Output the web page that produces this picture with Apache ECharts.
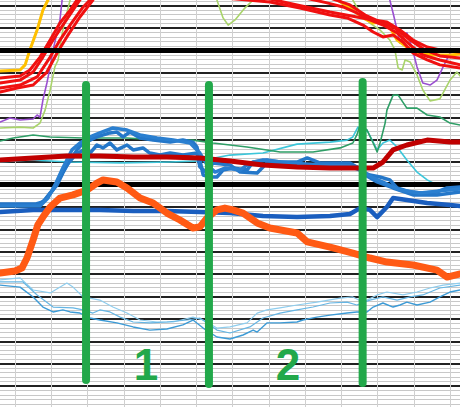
<!DOCTYPE html>
<html>
<head>
<meta charset="utf-8">
<script src="https://cdn.jsdelivr.net/npm/echarts@6/dist/echarts.min.js"></script>
<style>html,body{margin:0;padding:0;background:#fff}#c{width:460px;height:407px}</style>
</head>
<body>
<div id="c"></div>
<script>
// x: time units (10 per grid column), y: level units (10 per major grid line)
const redA = [[5.9,147.6],[11.4,148.5],[14.1,151.2],[16.9,157.0],[19.7,164.6],[22.4,172.2],[25.2,178.0],[27.1,182.5],[29.3,189.2],[50,200],[74.8,189.2],[79.0,183.4],[87.8,180.3],[96.9,177.1],[104.3,174.9],[108.8,173.6],[112.6,172.7],[116.2,169.1],[119.8,164.6],[123.7,161.5],[127.2,160.2],[132.8,159.3]];
const redB = [[5.9,145.4],[11.4,146.7],[15.0,150.3],[17.7,157.0],[20.5,164.6],[23.2,171.3],[26.0,178.0],[27.9,182.5],[30.1,189.2],[47.2,200],[65.2,187.9],[67.9,183.4],[80.3,181.6],[88.6,178.9],[96.9,175.8],[101.6,174.5],[106.0,171.3],[108.8,168.2],[111.5,166.0],[114.3,166.9],[117.0,163.7],[119.8,158.8],[123.7,155.7],[127.2,153.5],[132.8,152.1]];
const redC = [[5.9,143.2],[11.4,144.5],[16.1,148.1],[19.7,157.0],[22.4,164.6],[25.2,171.3],[28.8,179.4],[30.7,182.5],[32.6,189.2],[61,200],[85.9,189.2],[90.0,183.4],[96.1,181.2],[100.5,179.4],[104.3,176.7],[107.9,173.6],[111.5,171.3],[115.4,167.8],[119.0,162.4],[122.5,157.9],[127.2,155.7],[132.8,153.5]];
const redD = [[5.9,141.4],[10.6,143.2],[15.0,144.5],[18.8,150.3],[21.6,158.8],[24.3,166.0],[27.9,174.9],[31.5,182.5],[33.4,189.2],[66.6,200],[92.8,189.2],[96.9,183.4],[102.4,180.3],[106.6,175.8],[110.7,172.7],[114.8,170.0],[119.0,164.6],[123.1,160.2],[127.2,157.5],[132.8,156.6]];
const yellow = [[5.9,150.8],[11.4,151.2],[12.8,153.5],[14.1,160.2],[16.1,169.1],[17.7,178.0],[19.1,182.5],[21.0,189.2],[61,200],[94.1,189.2],[98.3,183.4],[101.0,180.3],[103.2,178.0],[106.0,174.5],[108.8,172.2],[110.7,172.7],[113.4,170.4],[115.4,164.6],[118.1,161.5],[120.9,158.8],[125.3,157.9],[130.0,157.9],[132.8,158.4]];
const purple = [[5.9,128.0],[8.6,129.8],[11.4,128.9],[15.0,129.3],[16.1,131.1],[16.9,130.2],[17.7,137.8],[18.8,145.4],[19.7,152.6],[20.5,160.2],[21.6,167.8],[22.4,173.6],[23.0,182.5],[23.5,189.2],[74.8,200],[112.1,189.2],[113.4,182.5],[114.3,176.7],[115.4,169.1],[116.2,163.3],[117.0,166.0],[118.1,167.8],[119.5,161.5],[120.9,152.6],[122.5,145.4],[124.5,144.5],[126.4,146.7],[128.1,152.6],[130.0,158.8],[132.8,160.2]];
const olive = [[5.9,125.3],[11.4,125.7],[15.0,125.3],[16.9,127.5],[18.3,133.3],[19.7,142.3],[21.0,152.6],[21.9,155.7],[22.4,161.5],[23.2,169.1],[24.3,176.7],[25.2,182.5],[26.0,189.2],[47.2,200],[64.3,187.0],[65.7,182.5],[67.4,174.5],[68.8,171.3],[70.7,173.6],[73.4,178.9],[75.7,182.5],[77.0,189.2],[88.6,200],[102.4,187.0],[103.2,182.5],[105.2,176.7],[107.9,172.2],[110.7,169.1],[113.4,164.6],[114.8,160.2],[115.7,152.1],[116.8,151.2],[117.6,155.7],[119.0,154.8],[120.9,149.0],[122.5,142.3],[124.5,137.4],[127.2,138.3],[130.0,146.7],[131.9,150.3],[132.8,148.5]];
const green = [[5.9,119.5],[9.5,120.8],[15.0,122.2],[19.7,121.3],[28.8,120.8],[31.5,120.8],[40.9,120.8],[50.0,119.9],[59.1,119.9],[63.0,119.0],[64.6,118.6],[74.0,116.8],[83.1,114.6],[92.2,114.6],[99.7,116.4],[103.2,118.6],[104.3,122.2],[105.2,126.6],[107.1,124.4],[108.8,118.6],[109.9,114.6],[110.7,118.6],[112.1,127.5],[112.6,133.3],[114.3,140.0],[115.7,140.0],[118.1,134.2],[120.9,134.2],[123.7,131.1],[127.2,130.2],[130.0,127.5],[132.8,126.6]];
const cyan = [[5.9,110.1],[14.1,111.0],[25.2,110.1],[39.0,109.7],[52.8,110.1],[61.0,110.6],[69.3,113.2],[78.4,114.1],[87.8,118.1],[96.9,119.0],[101.6,119.9],[103.2,121.3],[104.6,125.7],[105.9,122.2],[107.1,124.4],[108.8,119.0],[109.9,115.5],[111.5,118.6],[113.4,119.9],[115.4,116.8],[118.1,111.0],[120.9,105.6],[123.7,102.1],[126.4,99.8],[129.2,98.9],[132.8,98.9]];
const darkRed = [[5.9,111.0],[15.0,111.9],[24.3,112.8],[33.4,112.8],[42.6,112.3],[51.9,112.3],[61.0,111.9],[69.3,110.6],[78.4,108.8],[87.8,107.9],[96.9,107.4],[104.3,107.4],[108.8,107.4],[111.5,110.1],[114.3,115.5],[118.1,117.7],[123.7,119.9],[130.0,119.0],[132.8,119.0]];
const darkBlue = [[5.9,87.8],[15.0,88.7],[24.3,88.7],[33.4,88.7],[42.6,88.2],[51.9,88.2],[61.0,87.8],[69.3,87.3],[78.4,86.0],[87.8,85.5],[96.9,86.0],[102.4,86.9],[105.2,89.5],[107.9,88.7],[109.9,85.5],[112.6,90.0],[114.3,94.0],[118.1,93.1],[123.7,91.8],[130.0,90.9],[132.8,90.4]];
const blueA = [[5.9,91.3],[15.5,91.3],[17.7,92.2],[19.7,96.3],[21.6,99.8],[23.2,105.2],[25.2,111.0],[27.1,115.5],[28.8,118.6],[30.7,119.9],[32.6,121.3],[36.2,123.1],[38.1,123.5],[39.8,121.3],[41.7,123.5],[44.5,120.8],[48.1,119.9],[52.8,119.0],[56.3,119.9],[59.1,119.0],[60.2,116.8],[61.0,111.0],[61.9,104.3],[63.8,103.4],[65.7,103.4],[67.4,106.5],[70.1,107.4],[74.0,106.5],[75.7,110.1],[79.5,111.0],[83.1,110.1],[87.8,110.1],[90.6,111.9],[94.1,109.7],[98.8,109.7],[102.4,109.7],[104.3,107.9],[106.0,105.6],[107.9,104.3],[110.7,103.4],[113.4,102.1],[115.4,98.5],[119.0,96.7],[122.5,96.3],[126.4,96.7],[129.2,98.5],[132.8,98.9]];
const blueB = [[5.9,90.9],[16.3,90.9],[18.3,93.1],[20.5,97.6],[22.4,103.4],[24.3,108.8],[26.6,113.2],[28.8,115.5],[30.7,114.1],[32.6,117.7],[34.3,116.4],[36.2,118.6],[38.1,115.5],[40.9,117.7],[42.6,115.5],[45.3,116.4],[47.2,114.1],[50.0,113.2],[52.8,114.1],[56.3,113.2],[60.2,114.1],[61.0,107.9],[63.0,105.2],[64.6,109.7],[69.3,108.8],[72.1,105.6],[76.8,105.2],[79.5,109.7],[83.1,109.2],[88.6,108.8],[96.9,108.8],[101.6,108.8],[104.3,107.9],[106.6,104.3],[109.9,101.2],[114.3,98.5],[119.8,95.4],[126.4,95.4],[132.8,96.7]];
const blueC = [[5.9,90.4],[16.9,90.4],[19.1,94.0],[21.3,100.7],[23.2,107.4],[25.7,115.5],[27.9,118.6],[30.7,121.3],[33.4,123.1],[37.0,125.3],[40.9,124.4],[44.5,122.2],[49.2,120.8],[53.6,119.9],[58.3,118.6],[61.0,114.1],[63.0,108.8],[65.2,105.6],[67.9,107.4],[72.1,106.5],[74.8,109.7],[78.4,111.0],[85.9,109.7],[94.1,108.8],[102.4,108.3],[105.2,106.5],[108.8,103.0],[112.1,100.7],[116.2,97.6],[121.7,96.3],[127.2,97.2],[132.8,98.1]];
const orange = [[5.9,60.5],[10.0,61.4],[11.9,62.7],[13.3,67.2],[15.0,75.3],[16.3,82.0],[17.7,85.5],[19.7,90.0],[22.4,94.0],[26.0,95.4],[29.9,97.6],[32.6,100.7],[34.3,102.1],[38.1,101.2],[40.9,98.5],[44.5,94.0],[48.1,91.8],[51.9,87.3],[55.5,84.2],[59.1,80.6],[61.0,81.1],[63.0,85.1],[65.7,88.7],[67.9,89.5],[70.1,88.7],[72.9,87.3],[76.8,82.9],[80.3,80.6],[87.8,78.4],[90.6,74.4],[96.9,72.1],[103.2,69.4],[107.9,67.2],[112.6,65.4],[119.8,64.1],[126.4,61.8],[129.2,58.7],[132.8,60.1]];
const lowBlue1 = [[5.9,55.1],[11.4,54.2],[15.0,49.8],[17.7,45.3],[20.5,43.1],[23.2,44.0],[25.2,43.1],[27.9,42.6],[30.7,40.4],[33.4,39.5],[38.1,38.2],[42.6,36.4],[47.2,35.0],[51.9,35.5],[56.3,37.3],[59.1,39.5],[61.9,35.9],[65.7,31.9],[69.3,31.0],[72.9,32.8],[75.7,35.0],[76.8,34.1],[79.5,38.2],[83.1,38.2],[87.8,38.6],[89.4,39.5],[93.3,40.8],[96.9,41.7],[101.6,42.6],[104.3,43.1],[107.1,43.1],[108.8,45.3],[111.5,47.1],[114.3,45.3],[116.2,46.2],[118.1,47.5],[120.9,46.2],[124.5,47.5],[127.2,49.8],[130.0,52.0],[132.8,52.9]];
const lowBlue2 = [[5.9,57.4],[11.4,58.3],[15.0,52.9],[19.7,51.6],[24.3,56.0],[26.0,54.2],[28.8,49.8],[33.4,48.4],[37.0,45.3],[40.9,42.6],[44.5,39.5],[49.2,38.6],[53.6,38.6],[59.1,40.8],[61.9,39.5],[65.7,35.9],[69.3,36.4],[74.0,38.2],[76.8,42.6],[79.5,44.0],[83.1,44.9],[87.8,46.2],[93.3,47.5],[99.7,49.3],[103.2,49.8],[106.0,47.5],[109.9,50.7],[112.6,52.0],[117.0,50.7],[120.9,52.0],[124.5,53.8],[128.1,55.1],[132.8,56.0]];
const lowBlue3 = [[5.9,56.5],[12.2,56.5],[16.1,50.7],[20.5,45.3],[26.0,44.9],[28.8,44.0],[31.5,42.6],[33.4,44.0],[36.2,43.1],[39.0,40.8],[42.6,38.6],[47.2,38.2],[51.9,38.6],[57.5,39.5],[61.0,40.4],[63.0,38.2],[65.7,35.0],[69.3,33.7],[74.8,36.4],[78.4,40.4],[83.1,42.6],[87.8,44.0],[92.2,45.3],[96.9,47.1],[101.6,47.5],[104.3,46.2],[107.9,48.4],[111.5,49.8],[115.4,48.4],[119.0,49.8],[122.5,50.7],[127.2,53.8],[132.8,55.1]];
const phaseBars = [[[29.6,144.5],[29.6,12.7]],[[63.5,144.5],[63.5,10.9]],[[105.9,145.9],[105.9,11.4]]];
const phaseLabels = [[46.1,19.4,'1'],[85.3,19.4,'2']];
const thickLevels = [160, 100];

function ln(name, data, color, width, z, smooth) {
  return {type:'line', name, data, showSymbol:false, symbol:'none', smooth: smooth || 0, z: z,
    lineStyle:{color, width, join:'round', cap:'round'}, emphasis:{disabled:true}, animation:false};
}

const series = [
  {type:'line', data:[], z:1, markLine:{silent:true, symbol:'none', label:{show:false}, animation:false,
    lineStyle:{color:'#000', width:5, type:'solid'}, data: thickLevels.map(v => ({yAxis:v}))}},
  ln('lb2', lowBlue2, '#8ECDEE', 1.2, 2),
  ln('lb3', lowBlue3, '#66B6E4', 1.2, 2),
  ln('lb1', lowBlue1, '#3D9BD6', 1.4, 2),
  ln('cyan', cyan, '#3CC6DA', 1.6, 3),
  ln('green', green, '#2E9E66', 1.6, 3),
  ln('olive', olive, '#A9D46A', 1.6, 3),
  ln('purple', purple, '#9A4FD0', 1.6, 3),
  ln('yellow', yellow, '#FFC000', 3, 4),
  ln('redA', redA, '#F01010', 3, 4),
  ln('redB', redB, '#F01010', 3, 4),
  ln('redC', redC, '#F01010', 3, 4),
  ln('redD', redD, '#F01010', 3, 4),
  ln('blueA', blueA, '#2477C9', 3.5, 5),
  ln('blueB', blueB, '#2477C9', 3.5, 5),
  ln('blueC', blueC, '#2A7FD0', 3.5, 5),
  ln('darkBlue', darkBlue, '#1A5EBF', 4.5, 5),
  ln('darkRed', darkRed, '#C00000', 5, 6),
  ln('orange', orange, '#FF5A14', 7, 7),
];
phaseBars.forEach((b, i) => series.push(ln('bar' + i, b, '#22A84A', 8, 9)));
series.push({type:'scatter', z:10, symbolSize:1, animation:false, silent:true,
  itemStyle:{opacity:0},
  data: phaseLabels.map(p => ({value:[p[0], p[1]], name:p[2]})),
  label:{show:true, position:'inside', formatter: p => p.name, color:'#22A84A', opacity:1,
    fontSize:44, fontWeight:'bold', fontFamily:'Liberation Sans, Arial, sans-serif'}});

const chart = echarts.init(document.getElementById('c'), null, {renderer:'svg'});
chart.setOption({
  backgroundColor:'#fff',
  animation:false,
  grid:{left:-21.25, right:-26.25, top:-5.6, bottom:-1.4, containLabel:false, outerBoundsMode:'none'},
  xAxis:{type:'value', min:0, max:140, interval:10,
    axisLine:{show:false}, axisTick:{show:false}, axisLabel:{show:false},
    splitLine:{show:true, lineStyle:{color:'#d0d0d0', width:1}}},
  yAxis:{type:'value', min:0, max:185, interval:10,
    axisLine:{show:false}, axisTick:{show:false}, axisLabel:{show:false},
    splitLine:{show:true, lineStyle:{color:'#222', width:2}},
    minorTick:{show:false, splitNumber:5},
    minorSplitLine:{show:true, lineStyle:{color:'#c8c8c8', width:1}}},
  series
});
</script>
</body>
</html>
